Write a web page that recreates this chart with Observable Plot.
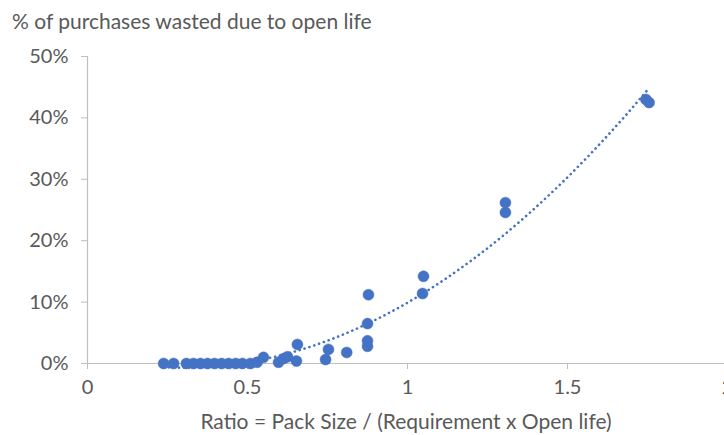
<!DOCTYPE html>
<html>
<head>
<meta charset="utf-8">
<script src="https://cdn.jsdelivr.net/npm/d3@7"></script>
<script src="https://cdn.jsdelivr.net/npm/@observablehq/plot@0.6"></script>
<style>
  html, body { margin: 0; padding: 0; background: #fff; }
  #wrap { width: 724px; height: 435px; overflow: hidden; position: relative; font-family: Lato, "Open Sans", sans-serif; }
  #title { height: 40px; box-sizing: border-box; padding: 9px 0 0 12px; font-size: 21px; color: #595959; line-height: 24px; white-space: nowrap; }
  svg { display: block; overflow: hidden; }
</style>
</head>
<body>
<div id="wrap">
  <div id="title">% of purchases wasted due to open life</div>
  <div id="chart"></div>
</div>
<script>
// Ratio = Pack Size / (Requirement x Open life)
const ratio = [
  0.238, 0.269, 0.309, 0.331, 0.353, 0.375, 0.397, 0.419, 0.441, 0.463, 0.484,
  0.509, 0.53, 0.55, 0.597, 0.613, 0.625, 0.653, 0.656,
  0.744, 0.753, 0.81,
  0.875, 0.875, 0.875, 0.878,
  1.047, 1.05,
  1.306, 1.306,
  1.745, 1.755
];
// % of purchases wasted due to open life
const wastedPct = [
  0, 0, 0, 0, 0, 0, 0, 0, 0, 0, 0,
  0, 0.2, 1.0, 0.2, 0.8, 1.1, 0.4, 3.1,
  0.65, 2.3, 1.8,
  2.8, 3.7, 6.5, 11.2,
  11.4, 14.2,
  24.6, 26.2,
  43.0, 42.5
];
const xTicks = [0, 0.5, 1, 1.5, 2];
const xTickLabels = ["0", "0.5", "1", "1.5", "2"];
const yTicks = [0, 10, 20, 30, 40, 50];
const yTickLabels = ["0%", "10%", "20%", "30%", "40%", "50%"];

const points = ratio.map((r, i) => ({ratio: r, wasted: wastedPct[i]}));

// Polynomial (order 2) least-squares trendline, as in the original spreadsheet chart
function quadFit(xs, ys) {
  const n = xs.length;
  let s = [0, 0, 0, 0, 0], t = [0, 0, 0];
  for (let i = 0; i < n; i++) {
    const x = xs[i], y = ys[i];
    for (let k = 0; k <= 4; k++) s[k] += x ** k;
    for (let k = 0; k <= 2; k++) t[k] += y * x ** k;
  }
  const M = [[s[0], s[1], s[2], t[0]], [s[1], s[2], s[3], t[1]], [s[2], s[3], s[4], t[2]]];
  for (let i = 0; i < 3; i++) {
    for (let j = i + 1; j < 3; j++) {
      const f = M[j][i] / M[i][i];
      for (let k = i; k < 4; k++) M[j][k] -= f * M[i][k];
    }
  }
  const c = [0, 0, 0];
  for (let i = 2; i >= 0; i--) {
    let v = M[i][3];
    for (let k = i + 1; k < 3; k++) v -= M[i][k] * c[k];
    c[i] = v / M[i][i];
  }
  return x => c[0] + c[1] * x + c[2] * x * x;
}
const fit = quadFit(ratio, wastedPct);
const [xmin, xmax] = d3.extent(ratio);
const trend = d3.range(0, 201).map(i => {
  const x = xmin + (xmax - xmin) * i / 200;
  return {ratio: x, wasted: fit(x)};
});

const blue = "#4472C4";
const axisGray = "#BFBFBF";
const textGray = "#595959";

const chart = Plot.plot({
  width: 724,
  height: 395,
  marginTop: 16,
  marginBottom: 72,
  marginLeft: 87,
  marginRight: 0,
  style: {fontFamily: "Lato, 'Open Sans', sans-serif", background: "white", overflow: "hidden"},
  x: {domain: [0, 2], range: [87, 727]},
  y: {domain: [0, 50]},
  marks: [
    Plot.ruleY([0], {stroke: axisGray, strokeWidth: 1.2}),
    Plot.ruleX([0], {stroke: axisGray, strokeWidth: 1.2, y1: 0, y2: 50}),
    Plot.axisY(yTicks, {tickSize: 6, stroke: axisGray, tickFormat: () => "", label: null}),
    Plot.axisY(yTicks, {tickSize: 0, tickPadding: 19, tickFormat: (d, i) => yTickLabels[i], fill: textGray, fontSize: 20, label: null}),
    Plot.axisX(xTicks, {tickSize: 6, stroke: axisGray, tickFormat: () => "", label: null}),
    Plot.axisX(xTicks, {tickSize: 0, tickPadding: 16, tickFormat: (d, i) => xTickLabels[i], fill: textGray, fontSize: 20,
      label: "Ratio = Pack Size / (Requirement x Open life)", labelAnchor: "center", labelArrow: "none", labelOffset: 65}),
    Plot.line(trend, {x: "ratio", y: "wasted", stroke: blue, strokeWidth: 2.6, strokeLinecap: "round", strokeDasharray: "0.1 5"}),
    Plot.dot(points, {x: "ratio", y: "wasted", r: 5.5, fill: blue, stroke: blue, strokeWidth: 0.5})
  ]
});
// x-axis title size
chart.querySelectorAll('[aria-label="x-axis label"] text').forEach(t => t.setAttribute("font-size", 21));
document.getElementById("chart").appendChild(chart);
</script>
</body>
</html>
